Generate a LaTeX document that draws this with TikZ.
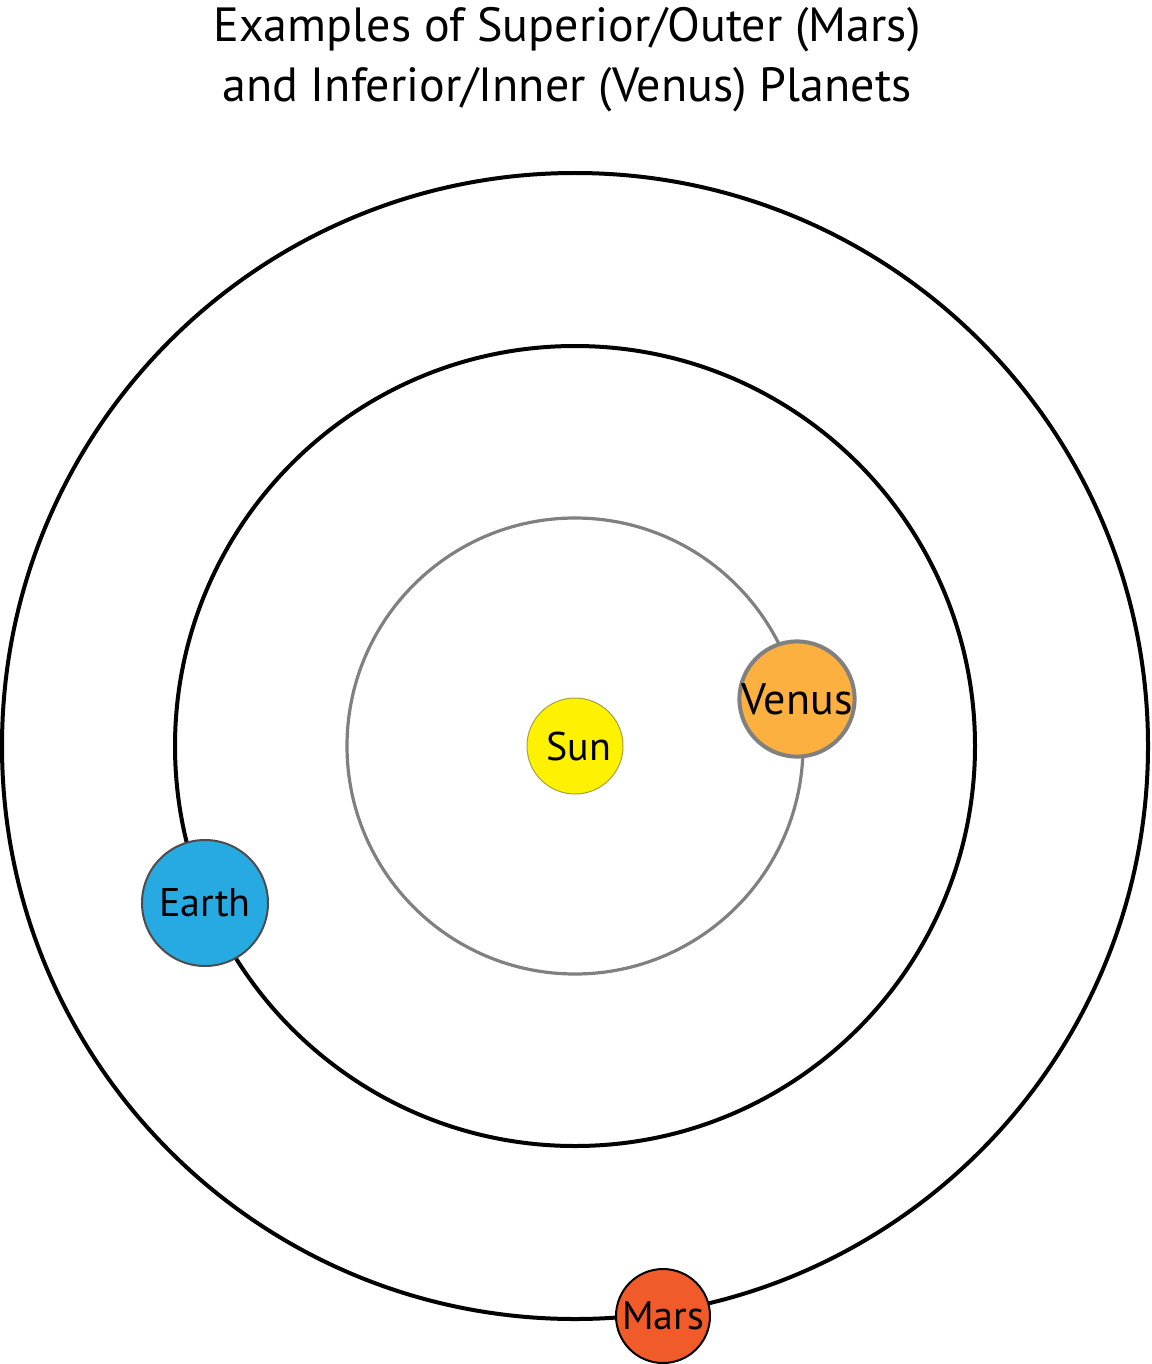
\documentclass[tikz,border=0pt]{standalone}
\usepackage{fontspec}
\setmainfont{PT Sans}
\definecolor{sunyellow}{HTML}{FFF200}
\definecolor{venusorange}{HTML}{FBB040}
\definecolor{earthblue}{HTML}{27AAE1}
\definecolor{marsred}{HTML}{F15A29}
\begin{document}
\begin{tikzpicture}[x=0.5pt, y=-0.5pt,
  every node/.style={font=\fontsize{20}{24}\selectfont},
  orbit/.style={line width=2pt},
  planet/.style={circle, inner sep=0pt, text=black}]
  \useasboundingbox (0,0) rectangle (1151,1364);
  % title
  \node[font=\fontsize{24}{30}\selectfont, align=center] (title) at (567,60)
    {Examples of Superior/Outer (Mars)\\ and Inferior/Inner (Venus) Planets};
  % orbits
  \coordinate (O) at (575,746);
  \draw[orbit] (O) circle[radius=573];
  \draw[orbit] (O) circle[radius=400];
  \draw[line width=1.6pt, gray] (O) circle[radius=228];
  % bodies
  \node[planet, fill=sunyellow, draw=black!40!yellow, line width=0.5pt,
    minimum size=48pt] (sun) at (O) {\hspace{4pt}Sun};
  \node[planet, fill=venusorange, draw=gray, line width=2pt,
    minimum size=56pt, font=\fontsize{22}{26}\selectfont] (venus) at (797,699) {Venus};
  \node[planet, fill=earthblue, draw=black!70, line width=1pt,
    minimum size=63pt] (earth) at (205,903) {Earth};
  \node[planet, fill=marsred, draw=black, line width=1pt,
    minimum size=47pt] (mars) at (663,1316) {Mars};
\end{tikzpicture}
\end{document}
